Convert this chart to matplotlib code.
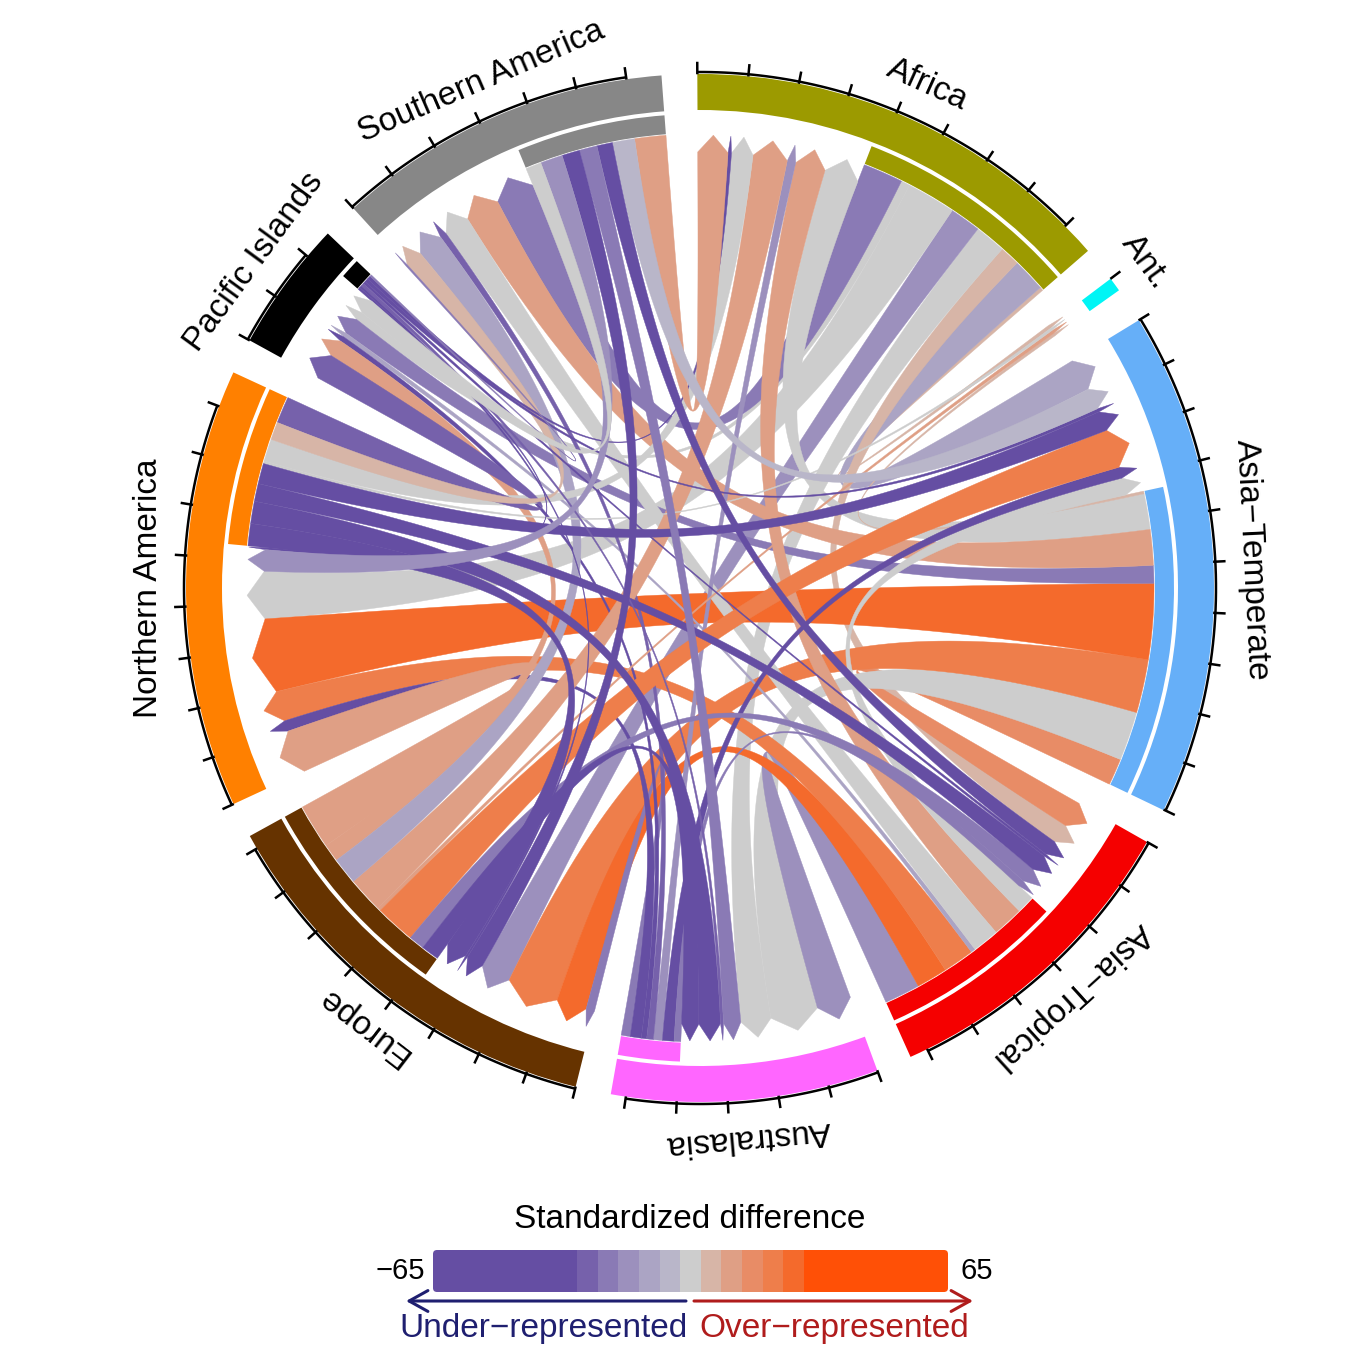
import numpy as np
import matplotlib.pyplot as plt
from matplotlib.patches import Polygon, Wedge, Rectangle, FancyBboxPatch

plt.rcParams['font.family'] = ['Liberation Sans', 'DejaVu Sans']

regions = ["Africa", "Ant.", "Asia\u2212Temperate", "Asia\u2212Tropical", "Australasia",
           "Europe", "Northern America", "Pacific Islands", "Southern America"]
region_colors = ["#9C9A00", "#00F5F5", "#66AFF8", "#F50000", "#FF66FF",
                 "#663300", "#FF8000", "#000000", "#878787"]

# flow[source][target], columns in the same order as regions
flow = [
    [0, 0.8, 7.5, 4.5, 7, 7, 11, 2, 9],
    [0, 0, 0, 0, 0, 0, 0, 0, 0],
    [8, 0.6, 0, 6, 11, 12, 17, 4, 8],
    [7, 0, 4, 0, 8, 7, 7, 1, 6],
    [2, 0, 2.6, 1.5, 0, 2, 2.5, 1.2, 1.5],
    [8, 0.8, 9, 3.5, 4, 0, 10, 4, 6],
    [5, 0.6, 4.6, 4, 5, 5, 0, 6, 4],
    [0.8, 0, 0.8, 0.6, 0.7, 0.5, 0.5, 0, 0.4],
    [7, 0, 5, 3.5, 4, 4, 5, 3.5, 0],
]
# standardized difference of each link
std_diff = [
    [0, 5, -10, 4, -2, -16, 0, 0, -21],
    [0, 0, 0, 0, 0, 0, 0, 0, 0],
    [-1, 5, 0, 16, 0, 20, 26, -21, 8],
    [10, 0, -2, 0, -16, 26, 21, -10, -2],
    [-16, 0, -45, -22, 0, -22, -45, -40, -26],
    [9, 12, 22, -21, -30, 0, 9, 9, -12],
    [-2, -1, -35, -38, -45, -40, 0, -26, 5],
    [-35, 0, -40, -40, -27, -35, -40, 0, -22],
    [10, 0, -3, -38, -21, -35, -18, -1, 0],
]
breaks = [-65, -28.6, -23.4, -18.2, -13, -7.8, -2.6, 2.6, 7.8, 13, 18.2, 23.4, 28.6, 65]
bin_colors = ["#654EA3", "#7661AB", "#8A7AB5", "#9C90BD", "#ABA4C4", "#B9B6C9", "#CDCDCD",
              "#D7B5A7", "#DF9F85", "#E88C66", "#EE7E4B", "#F46A2C", "#FF5006"]

F = np.array(flow, dtype=float)
D = np.array(std_diff, dtype=float)
n = len(regions)
in_tot = F.sum(axis=0)
out_tot = F.sum(axis=1)
size = in_tot + out_tot

gap = 4.0
start_deg = 90.3
unit = (360 - gap * n) / size.sum()
starts = []
a = start_deg
for k in range(n):
    starts.append(a)
    a -= size[k] * unit + gap
starts = np.array(starts)

cx, cy = 700, 1355 - 588
r_out1, r_out0 = 514, 478
r_in1, r_in0 = 474, 455
r_src, r_tip, r_sh = 454, 453, 436
weight = 1.5   # weight of the centre control point of each link border


def theta(k, pos):
    return starts[k] - pos * unit


def pt(ang, r):
    t = np.radians(ang)
    return np.array([cx + r * np.cos(t), cy + r * np.sin(t)])


def partners(k):
    return [(k - m) % n for m in range(1, n)]


def get_color(v):
    idx = np.searchsorted(breaks, v, side="right") - 1
    return bin_colors[int(np.clip(idx, 0, len(bin_colors) - 1))]


# positions of link ends inside each sector: incoming first, then outgoing
in_pos, out_pos = {}, {}
for k in range(n):
    p = 0.0
    for s in partners(k):
        if F[s, k] > 0:
            in_pos[(s, k)] = p
            p += F[s, k]
    for t in partners(k):
        if F[k, t] > 0:
            out_pos[(k, t)] = p
            p += F[k, t]

fig = plt.figure(figsize=(13.55, 13.55), dpi=100)
ax = fig.add_axes([0, 0, 1, 1])
ax.set_xlim(0, 1355)
ax.set_ylim(0, 1355)
ax.set_aspect("equal")
ax.axis("off")

tt = np.linspace(0, 1, 80)[:, None]
ctr = np.array([cx, cy])


def border(p0, p2):
    b0, b1, b2 = (1 - tt) ** 2, 2 * weight * tt * (1 - tt), tt ** 2
    return (b0 * p0 + b1 * ctr + b2 * p2) / (b0 + b1 + b2)


def ribbon(a1, a2, b1, b2, col):
    src = np.array([pt(g, r_src) for g in np.linspace(a1, a2, 30)])
    e1 = border(pt(a2, r_src), pt(b1, r_sh))
    head = np.array([pt((b1 + b2) / 2, r_tip), pt(b2, r_sh)])
    e2 = border(pt(b2, r_sh), pt(a1, r_src))
    verts = np.vstack([src, e1, head, e2])
    ax.add_patch(Polygon(verts, closed=True, facecolor=col, edgecolor=col,
                         lw=0.3, zorder=2))


for s in range(n):
    for t in range(n):
        w = F[s, t]
        if w <= 0:
            continue
        a1 = theta(s, out_pos[(s, t)])
        a2 = theta(s, out_pos[(s, t)] + w)
        b1 = theta(t, in_pos[(s, t)])
        b2 = theta(t, in_pos[(s, t)] + w)
        ribbon(a1, a2, b1, b2, get_color(D[s, t]))

# tracks, axis and labels
for k in range(n):
    st = starts[k]
    en = theta(k, size[k])
    ax.add_patch(Wedge((cx, cy), r_out1, en, st, width=r_out1 - r_out0,
                       facecolor=region_colors[k], edgecolor="none", zorder=3))
    if out_tot[k] > 0:
        ob = theta(k, in_tot[k])
        ax.add_patch(Wedge((cx, cy), r_in1, en, ob, width=r_in1 - r_in0,
                           facecolor=region_colors[k], edgecolor="none", zorder=3))
    ticks = np.arange(0, size[k] + 1e-9, 10)
    ang = np.linspace(theta(k, 0), theta(k, ticks[-1]), 60)
    ax.plot(cx + 516 * np.cos(np.radians(ang)), cy + 516 * np.sin(np.radians(ang)),
            color="black", lw=1.8, zorder=4, solid_capstyle="butt")
    for tk in ticks:
        q0, q1 = pt(theta(k, tk), 515), pt(theta(k, tk), 525)
        ax.plot([q0[0], q1[0]], [q0[1], q1[1]], color="black", lw=1.8, zorder=4)
    mid = (st + en) / 2
    lp = pt(mid, 552)
    rot = (mid - 90 + 180) % 360 - 180
    ax.text(lp[0], lp[1], regions[k], rotation=rot, rotation_mode="anchor",
            ha="center", va="center", fontsize=24, zorder=5)

# legend
bx0, bx1, by0, by1 = 433, 948, 1355 - 1292, 1355 - 1250
span = breaks[-1] - breaks[0]
clip = FancyBboxPatch((bx0, by0), bx1 - bx0, by1 - by0,
                      boxstyle="round,pad=0,rounding_size=4",
                      facecolor="none", edgecolor="none")
ax.add_patch(clip)
for i, col in enumerate(bin_colors):
    x0 = bx0 + (breaks[i] - breaks[0]) / span * (bx1 - bx0)
    x1 = bx0 + (breaks[i + 1] - breaks[0]) / span * (bx1 - bx0)
    r = Rectangle((x0, by0), x1 - x0, by1 - by0, facecolor=col, edgecolor="none")
    ax.add_patch(r)
    r.set_clip_path(clip)

ax.text(690, 1355 - 1220, "Standardized difference", ha="center", va="center", fontsize=24)
ax.text(425, 1355 - 1271, "\u221265", ha="right", va="center", fontsize=21)
ax.text(960, 1355 - 1271, "65", ha="left", va="center", fontsize=21)

ay = 1355 - 1301
ax.annotate("", xy=(406, ay), xytext=(686, ay),
            arrowprops=dict(arrowstyle="->,head_length=0.45,head_width=0.25",
                            color="#1F1F70", lw=2.2, mutation_scale=30,
                            shrinkA=0, shrinkB=0))
ax.annotate("", xy=(973, ay), xytext=(694, ay),
            arrowprops=dict(arrowstyle="->,head_length=0.45,head_width=0.25",
                            color="#B01C1C", lw=2.2, mutation_scale=30,
                            shrinkA=0, shrinkB=0))
ax.text(543, 1355 - 1337, "Under\u2212represented", ha="center", va="baseline",
        fontsize=24, color="#1F1F70")
ax.text(834, 1355 - 1337, "Over\u2212represented", ha="center", va="baseline",
        fontsize=24, color="#B01C1C")

fig.savefig("out.png", dpi=100)
